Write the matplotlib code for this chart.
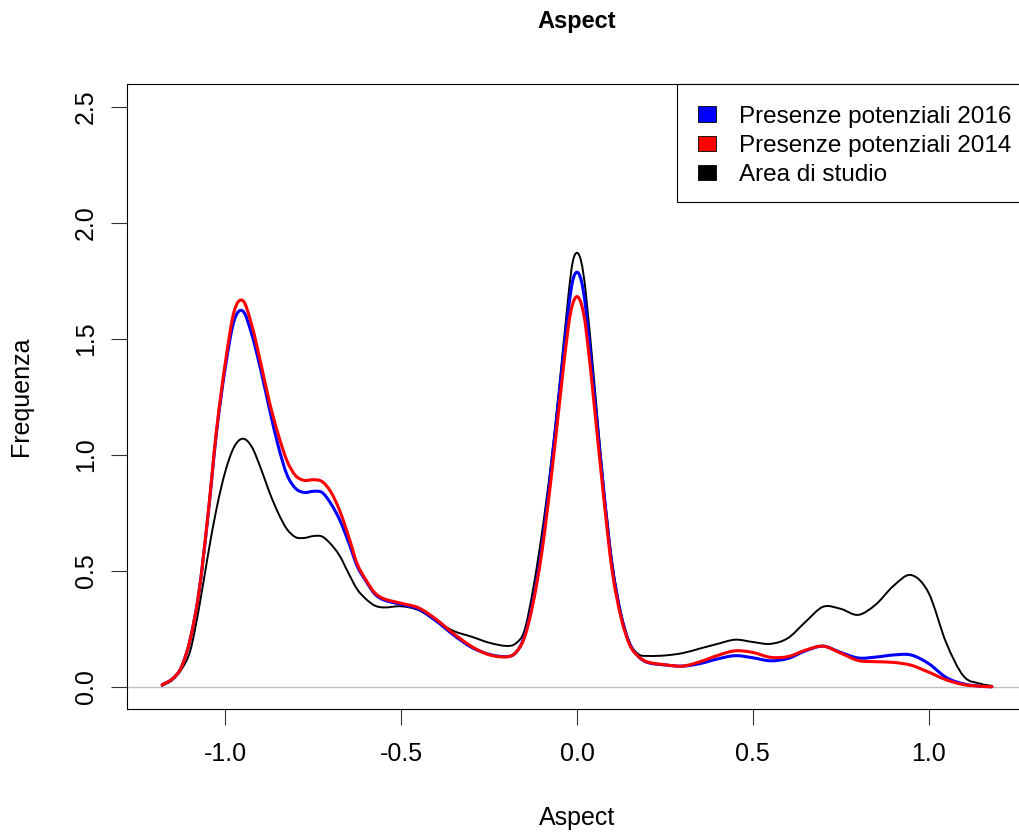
import matplotlib
matplotlib.use("Agg")
import matplotlib.pyplot as plt
from matplotlib.patches import Rectangle, PathPatch
from matplotlib.path import Path

plt.rcParams['font.family'] = ['Liberation Sans', 'DejaVu Sans']

# ---- data ----
x_vals = [-1.18, -1.15, -1.125, -1.1, -1.075, -1.05, -1.025, -1.0, -0.975, -0.95,
          -0.925, -0.9, -0.875, -0.85, -0.825, -0.8, -0.775, -0.75, -0.725, -0.7,
          -0.675, -0.65, -0.625, -0.6, -0.575, -0.55, -0.5, -0.45, -0.4, -0.35,
          -0.3, -0.25, -0.2, -0.175, -0.15, -0.125, -0.1, -0.075, -0.05, -0.025,
          -0.0125, 0.0, 0.0125, 0.025, 0.05, 0.075, 0.1, 0.125, 0.15, 0.175,
          0.2, 0.25, 0.3, 0.35, 0.4, 0.45, 0.5, 0.55, 0.6, 0.65,
          0.7, 0.75, 0.8, 0.85, 0.9, 0.95, 1.0, 1.05, 1.1, 1.15, 1.18]

area_studio = [0.004, 0.03, 0.075, 0.155, 0.34, 0.565, 0.77, 0.93, 1.035, 1.07,
               1.035, 0.945, 0.84, 0.75, 0.68, 0.645, 0.642, 0.65, 0.648, 0.615,
               0.565, 0.49, 0.42, 0.378, 0.35, 0.342, 0.347, 0.33, 0.283, 0.24,
               0.216, 0.19, 0.176, 0.186, 0.24, 0.42, 0.66, 0.95, 1.30, 1.68,
               1.83, 1.872, 1.83, 1.70, 1.30, 0.88, 0.54, 0.32, 0.19, 0.14,
               0.133, 0.135, 0.145, 0.165, 0.185, 0.203, 0.193, 0.185, 0.21, 0.28,
               0.345, 0.336, 0.31, 0.355, 0.435, 0.482, 0.405, 0.19, 0.045, 0.012, 0.004]

presenze_2016 = [0.008, 0.035, 0.085, 0.205, 0.41, 0.73, 1.10, 1.38, 1.58, 1.62,
                 1.52, 1.37, 1.20, 1.04, 0.915, 0.855, 0.838, 0.843, 0.838, 0.79,
                 0.72, 0.625, 0.52, 0.455, 0.40, 0.375, 0.355, 0.335, 0.283, 0.222,
                 0.17, 0.14, 0.13, 0.146, 0.215, 0.37, 0.60, 0.92, 1.27, 1.62,
                 1.75, 1.788, 1.75, 1.63, 1.25, 0.86, 0.52, 0.31, 0.185, 0.13,
                 0.105, 0.094, 0.089, 0.10, 0.12, 0.134, 0.125, 0.112, 0.122, 0.155,
                 0.175, 0.148, 0.124, 0.128, 0.137, 0.137, 0.10, 0.04, 0.012, 0.002, 0.0]

presenze_2014 = [0.008, 0.035, 0.085, 0.205, 0.41, 0.735, 1.11, 1.40, 1.62, 1.665,
                 1.56, 1.40, 1.23, 1.09, 0.975, 0.91, 0.89, 0.893, 0.885, 0.84,
                 0.76, 0.65, 0.53, 0.46, 0.405, 0.38, 0.36, 0.34, 0.29, 0.228,
                 0.174, 0.138, 0.129, 0.146, 0.21, 0.36, 0.58, 0.88, 1.22, 1.55,
                 1.65, 1.683, 1.65, 1.55, 1.20, 0.83, 0.50, 0.30, 0.18, 0.13,
                 0.107, 0.095, 0.089, 0.108, 0.135, 0.155, 0.148, 0.127, 0.13, 0.158,
                 0.175, 0.145, 0.113, 0.108, 0.105, 0.093, 0.063, 0.03, 0.009, 0.002, 0.0]

x_ticks = [-1.0, -0.5, 0.0, 0.5, 1.0]
y_ticks = [0.0, 0.5, 1.0, 1.5, 2.0, 2.5]
legend_labels = ["Presenze potenziali 2016", "Presenze potenziali 2014", "Area di studio"]
legend_colors = ["#0000ff", "#ff0000", "#000000"]


def smooth_path(xs, ys):
    """Cubic Hermite (Bezier) path passing through every data point."""
    n = len(xs)
    m = []
    for i in range(n):
        if i == 0:
            m.append((ys[1] - ys[0]) / (xs[1] - xs[0]))
        elif i == n - 1:
            m.append((ys[-1] - ys[-2]) / (xs[-1] - xs[-2]))
        else:
            m.append((ys[i + 1] - ys[i - 1]) / (xs[i + 1] - xs[i - 1]))
    verts = [(xs[0], ys[0])]
    codes = [Path.MOVETO]
    for i in range(n - 1):
        h = xs[i + 1] - xs[i]
        verts += [(xs[i] + h / 3, ys[i] + m[i] * h / 3),
                  (xs[i + 1] - h / 3, ys[i + 1] - m[i + 1] * h / 3),
                  (xs[i + 1], ys[i + 1])]
        codes += [Path.CURVE4] * 3
    return Path(verts, codes)


W, H = 1019, 834
fig = plt.figure(figsize=(W / 100, H / 100), dpi=100)

# axes box in pixels: left 127.3, right 1026.7 (beyond image), top 84, bottom 709
L, R, T, B = 127.3, 1026.7, 84.0, 709.0
ax = fig.add_axes([L / W, (H - B) / H, (R - L) / W, (B - T) / H])
ax.set_xlim(-1.279, 1.279)
ax.set_ylim(-0.096, 2.6)

ax.axhline(0, color="#bebebe", lw=1.0, zorder=1)
for ys, col, lw, z in [(area_studio, "black", 1.4, 2),
                       (presenze_2016, "#0000ff", 2.2, 3),
                       (presenze_2014, "#ff0000", 2.2, 4)]:
    ax.add_patch(PathPatch(smooth_path(x_vals, ys), facecolor="none",
                           edgecolor=col, lw=lw, zorder=z, joinstyle="round",
                           capstyle="round"))

for s in ax.spines.values():
    s.set_linewidth(0.8)
    s.set_color("black")

ax.set_xticks(x_ticks)
ax.set_xticklabels([f"{v:.1f}" for v in x_ticks])
ax.set_yticks(y_ticks)
ax.set_yticklabels([f"{v:.1f}" for v in y_ticks], rotation=90, va="center")
ax.tick_params(axis="both", length=11.5, width=0.8, color="#333333", labelsize=18)
ax.tick_params(axis="x", pad=12.5)
ax.tick_params(axis="y", pad=9.5)

# labels and title
fig.text(577 / W, 1 - 21.5 / H, "Aspect", ha="center", va="center",
         fontsize=17, fontweight="bold")
fig.text(577 / W, 1 - 817.5 / H, "Aspect", ha="center", va="center", fontsize=18)
fig.text(21 / W, 1 - 396.5 / H, "Frequenza", ha="center", va="center",
         fontsize=18, rotation=90)

# legend drawn as in R: box anchored at top-right of plot
lx0 = (677 - L) / (R - L)
ly0 = (B - 202) / (B - T)
ax.add_patch(Rectangle((lx0, ly0), 1 - lx0, 1 - ly0, transform=ax.transAxes,
                       facecolor="white", edgecolor="black", lw=0.8, zorder=5,
                       clip_on=False))
row_px = [114, 143, 172]
for lab, col, ypx in zip(legend_labels, legend_colors, row_px):
    yc = (B - ypx) / (B - T)
    sx = (698 - L) / (R - L)
    sw = 18 / (R - L)
    sh = 15 / (B - T)
    ax.add_patch(Rectangle((sx, yc - sh / 2), sw, sh, transform=ax.transAxes,
                           facecolor=col, edgecolor="black", lw=0.6, zorder=6))
    ax.text((739 - L) / (R - L), (B - ypx - 9) / (B - T), lab, transform=ax.transAxes,
            ha="left", va="baseline", fontsize=17.5, zorder=7)

fig.savefig("out.png", dpi=100)
